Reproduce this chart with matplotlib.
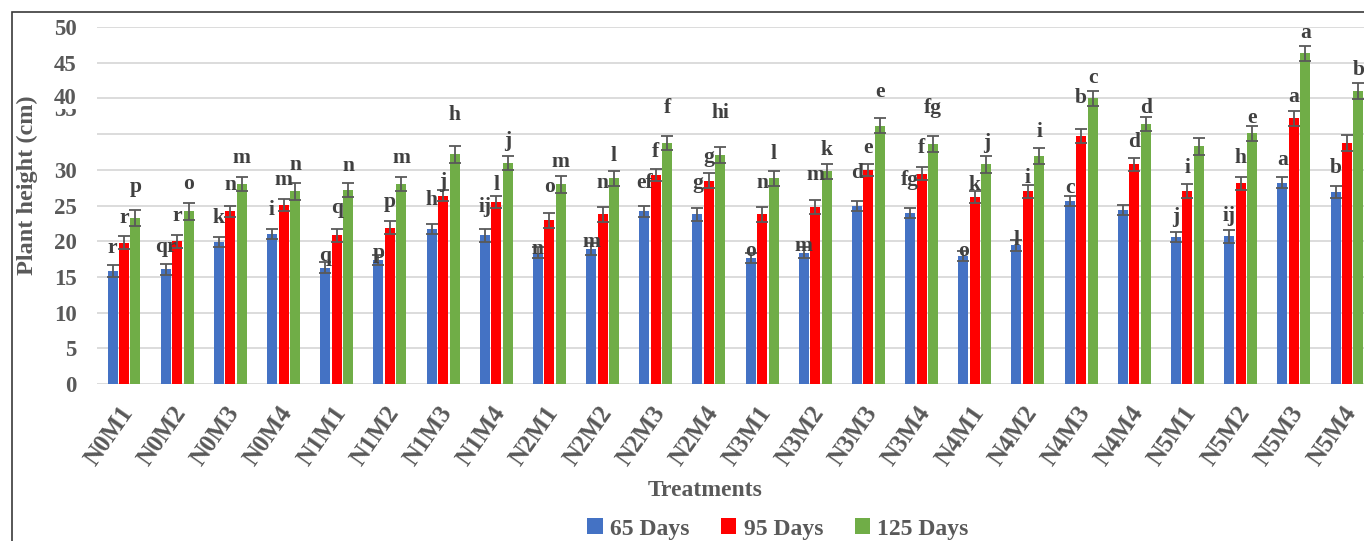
import numpy as np
import matplotlib
matplotlib.use("Agg")
import matplotlib.pyplot as plt
import matplotlib.transforms as mtransforms
from matplotlib.patches import Rectangle, Patch

plt.rcParams['font.family'] = ['Liberation Serif', 'DejaVu Serif']
plt.rcParams['font.weight'] = 'bold'

# treatment combinations (N level x M level)
treatments = ['N0M1', 'N0M2', 'N0M3', 'N0M4', 'N1M1', 'N1M2', 'N1M3', 'N1M4',
              'N2M1', 'N2M2', 'N2M3', 'N2M4', 'N3M1', 'N3M2', 'N3M3', 'N3M4',
              'N4M1', 'N4M2', 'N4M3', 'N4M4', 'N5M1', 'N5M2', 'N5M3', 'N5M4']
series_names = ['65 Days', '95 Days', '125 Days']

# mean plant height (cm)
h65 = [15.8, 16.05, 19.85, 20.95, 16.3, 17.4, 21.7, 20.8, 18.4, 18.9, 24.2, 23.75,
       17.7, 18.4, 24.9, 24.0, 17.9, 19.4, 25.6, 24.4, 20.6, 20.7, 28.2, 26.9]
h95 = [19.8, 20.0, 24.2, 25.1, 20.8, 21.9, 26.4, 25.5, 22.9, 23.75, 29.3, 28.5,
       23.75, 24.8, 30.0, 29.45, 26.2, 27.0, 34.7, 30.8, 27.0, 28.1, 37.2, 33.8]
h125 = [23.2, 24.2, 28.0, 27.0, 27.2, 28.0, 32.2, 31.0, 28.0, 28.8, 33.8, 32.1,
        28.8, 29.8, 36.2, 33.6, 30.8, 31.9, 40.0, 36.4, 33.3, 35.1, 46.3, 41.0]

# standard errors
se65 = [0.8, 0.75, 0.7, 0.7, 0.8, 0.7, 0.7, 0.85, 0.8, 0.8, 0.8, 0.9,
        0.7, 0.8, 0.7, 0.7, 0.7, 0.8, 0.7, 0.7, 0.7, 0.9, 0.8, 0.8]
se95 = [0.9, 0.9, 0.8, 0.85, 0.9, 0.9, 0.8, 0.8, 1.0, 1.05, 0.8, 1.1,
        1.05, 1.0, 0.85, 0.9, 0.8, 0.9, 1.0, 0.9, 0.95, 0.9, 1.0, 1.1]
se125 = [1.1, 1.2, 1.0, 1.2, 1.0, 1.0, 1.2, 1.0, 1.2, 1.1, 1.0, 1.1,
         1.1, 1.05, 1.1, 1.1, 1.2, 1.1, 1.1, 1.0, 1.2, 1.1, 1.0, 1.1]

# DMRT letters
let65 = ['r', 'qr', 'k', 'i', 'q', 'p', 'h', 'ij', 'n', 'm', 'ef', 'g',
         'o', 'm', 'd', 'fg', 'o', 'l', 'c', '', 'j', 'ij', 'a', 'b']
let95 = ['r', 'r', 'n', 'm', 'q', 'p', 'j', 'l', 'o', 'n', 'f', 'g',
         'n', 'm', 'e', 'f', 'k', 'i', 'b', 'd', 'i', 'h', 'a', '']
let125 = ['p', 'o', 'm', 'n', 'n', 'm', 'h', 'j', 'm', 'l', 'f', 'hi',
          'l', 'k', 'e', 'fg', 'j', 'i', 'c', 'd', '', 'e', 'a', 'b']

# how far (px) each letter sits above its error bar
lift65 = [17, 17, 19, 19, 6, 2, 24, 22, -2, 1, 23, 25,
          2, 1, 28, 28, 0, 0, 8, 0, 15, 14, 17, 18]
lift95 = [18, 19, 21, 19, 21, 19, 8, 11, 26, 24, 17, 16,
          24, 25, 16, 19, 6, 7, 31, 16, 16, 19, 14, 0]
lift125 = [23, 19, 19, 18, 17, 19, 31, 15, 14, 15, 28, 34,
           17, 14, 26, 28, 13, 16, 13, 9, 0, 8, 13, 13]

colors = ['#4472C4', '#FF0000', '#70AD47']
grey = '#595959'

W, H = 1364, 541
fig = plt.figure(figsize=(W / 100, H / 100), dpi=100)
fig.patch.set_facecolor('white')

ax = fig.add_axes([97.4 / W, 157 / H, 1276.2 / W, 357 / H])
x = np.arange(len(treatments))
width = 0.188
step = 0.216

groups = [(h65, se65, let65, lift65), (h95, se95, let95, lift95), (h125, se125, let125, lift125)]
for i, (vals, err, lets, lift) in enumerate(groups):
    xs = x + (i - 1) * step
    ax.bar(xs, vals, width, color=colors[i], zorder=2)
    ax.errorbar(xs, vals, yerr=err, fmt='none', ecolor=grey, elinewidth=1.3,
                capsize=4, capthick=1.3, zorder=3)
    for xi, v, e, t, lp in zip(xs, vals, err, lets, lift):
        if t:
            ax.annotate(t, xy=(xi, v + e), xytext=(0, lp), textcoords='offset pixels',
                        ha='center', va='center', fontsize=15.5, fontweight='bold',
                        color='#404040', zorder=4)

ax.set_xlim(-0.5, len(treatments) - 0.5)
ax.set_ylim(0, 50)
ax.set_yticks(np.arange(0, 51, 5))
ax.yaxis.grid(True, color='#d9d9d9', linewidth=1.3)
ax.set_axisbelow(True)
for s in ax.spines.values():
    s.set_visible(False)
ax.tick_params(length=0)

ylabels = [str(v) if v not in (35, 40) else '' for v in range(0, 51, 5)]
ax.set_yticklabels(ylabels, fontsize=16.5, color=grey, fontweight='bold')
ax.tick_params(axis='y', pad=15)

# the 35 label sits up under the 40 label, which hides its top half
ax.annotate('35', xy=(0, 35), xycoords=('axes fraction', 'data'), xytext=(-21, 24),
            textcoords='offset pixels', ha='right', va='center', fontsize=16.5,
            color=grey, fontweight='bold', annotation_clip=False, zorder=5)
ax.annotate('40', xy=(0, 40), xycoords=('axes fraction', 'data'), xytext=(-21, 0),
            textcoords='offset pixels', ha='right', va='center', fontsize=16.5,
            color=grey, fontweight='bold', annotation_clip=False, zorder=6,
            bbox=dict(fc='white', ec='none', pad=0))

ax.set_xticks(x)
ax.set_xticklabels(treatments, rotation=55, ha='right', va='top', rotation_mode='anchor',
                   fontsize=18, color=grey, fontweight='bold')
ax.tick_params(axis='x', pad=13)
shift = mtransforms.ScaledTranslation(-5 / 100, 0, fig.dpi_scale_trans)
for lbl in ax.get_xticklabels():
    lbl.set_transform(lbl.get_transform() + shift)

fig.text(27 / W, 1 - 185 / H, 'Plant height (cm)', rotation=90, ha='center', va='center',
         fontsize=17.5, color=grey, fontweight='bold')
fig.text(705 / W, 1 - 490 / H, 'Treatments', ha='center', va='center',
         fontsize=17, color=grey, fontweight='bold')

handles = [Patch(facecolor=c, edgecolor='none') for c in colors]
fig.legend(handles, series_names, loc='center', bbox_to_anchor=(778 / W, 1 - 529 / H),
           ncol=3, frameon=False, handlelength=0.65, handleheight=0.65, handletextpad=0.3,
           columnspacing=1.35, labelcolor=grey,
           prop={'family': 'Liberation Serif', 'weight': 'bold', 'size': 17})

# chart frame
fig.patches.append(Rectangle((12 / W, -0.1), 2, 1 - 12 / H + 0.1, fill=False,
                             edgecolor='#3a3a3a', linewidth=1.2, transform=fig.transFigure))

fig.savefig('out.png', dpi=100, facecolor='white')
